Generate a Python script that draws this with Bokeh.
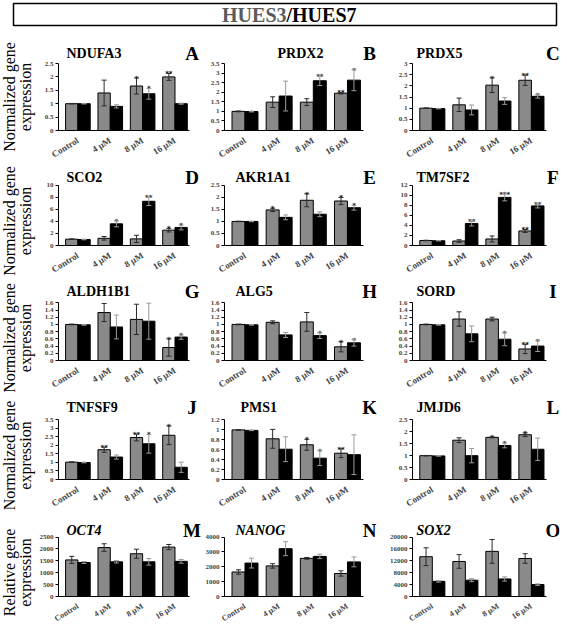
import math
from bokeh.plotting import figure
from bokeh.models import (ColumnDataSource, Range1d, FixedTicker,
                          CustomJSTickFormatter, Whisker, TeeHead)
from bokeh.layouts import gridplot, column, row
from bokeh.embed import file_html
from bokeh.resources import INLINE
from bokeh.core.properties import value

CATEGORIES = ["Control", "4 µM", "8 µM", "16 µM"]

NDUFA3_H3 = [1.00, 1.40, 1.66, 2.00]
NDUFA3_H3_ERR = [0.01, 0.48, 0.30, 0.13]
NDUFA3_H3_SIG = ["", "", "*", "**"]
NDUFA3_H7 = [1.00, 0.90, 1.37, 1.00]
NDUFA3_H7_ERR = [0.01, 0.06, 0.20, 0.02]
NDUFA3_H7_SIG = ["", "", "*", ""]
NDUFA3_TICKS = [0, 0.5, 1, 1.5, 2, 2.5]

PRDX2_H3 = [1.00, 1.48, 1.48, 1.95]
PRDX2_H3_ERR = [0.02, 0.28, 0.18, 0.04]
PRDX2_H3_SIG = ["", "", "", "**"]
PRDX2_H7 = [0.99, 1.80, 2.60, 2.63]
PRDX2_H7_ERR = [0.02, 0.78, 0.25, 0.55]
PRDX2_H7_SIG = ["", "", "**", "*"]
PRDX2_TICKS = [0, 0.5, 1, 1.5, 2, 2.5, 3, 3.5]

PRDX5_H3 = [1.00, 1.15, 2.03, 2.25]
PRDX5_H3_ERR = [0.01, 0.30, 0.33, 0.23]
PRDX5_H3_SIG = ["", "", "*", "**"]
PRDX5_H7 = [0.98, 0.92, 1.32, 1.53]
PRDX5_H7_ERR = [0.01, 0.22, 0.15, 0.08]
PRDX5_H7_SIG = ["", "", "", "*"]
PRDX5_TICKS = [0, 0.5, 1, 1.5, 2, 2.5, 3]

SCO2_H3 = [1.05, 1.20, 1.10, 2.55]
SCO2_H3_ERR = [0.05, 0.30, 0.60, 0.30]
SCO2_H3_SIG = ["", "", "", "*"]
SCO2_H7 = [1.00, 3.60, 7.35, 3.00]
SCO2_H7_ERR = [0.05, 0.50, 0.70, 0.40]
SCO2_H7_SIG = ["", "*", "**", "*"]
SCO2_TICKS = [0, 2, 4, 6, 8, 10]

AKR1A1_H3 = [1.00, 1.48, 1.88, 1.85]
AKR1A1_H3_ERR = [0.01, 0.07, 0.27, 0.15]
AKR1A1_H3_SIG = ["", "*", "*", "*"]
AKR1A1_H7 = [1.00, 1.17, 1.30, 1.57]
AKR1A1_H7_ERR = [0.01, 0.10, 0.10, 0.10]
AKR1A1_H7_SIG = ["", "", "", "*"]
AKR1A1_TICKS = [0, 0.5, 1, 1.5, 2, 2.5]

TM7SF2_H3 = [1.00, 0.90, 1.30, 2.90]
TM7SF2_H3_ERR = [0.05, 0.25, 0.60, 0.30]
TM7SF2_H3_SIG = ["", "", "", "**"]
TM7SF2_H7 = [0.95, 4.40, 9.60, 7.90]
TM7SF2_H7_ERR = [0.03, 0.50, 0.70, 0.40]
TM7SF2_H7_SIG = ["", "**", "***", "**"]
TM7SF2_TICKS = [0, 2, 4, 6, 8, 10, 12]

ALDH1B1_H3 = [1.00, 1.33, 1.14, 0.36]
ALDH1B1_H3_ERR = [0.01, 0.25, 0.42, 0.24]
ALDH1B1_H3_SIG = ["", "", "", "*"]
ALDH1B1_H7 = [0.99, 0.93, 1.09, 0.65]
ALDH1B1_H7_ERR = [0.01, 0.33, 0.50, 0.06]
ALDH1B1_H7_SIG = ["", "", "", "*"]
ALDH1B1_TICKS = [0, 0.2, 0.4, 0.6, 0.8, 1, 1.2, 1.4, 1.6]

ALG5_H3 = [1.00, 1.06, 1.07, 0.38]
ALG5_H3_ERR = [0.01, 0.04, 0.26, 0.14]
ALG5_H3_SIG = ["", "", "", "*"]
ALG5_H7 = [0.99, 0.71, 0.69, 0.49]
ALG5_H7_ERR = [0.01, 0.07, 0.08, 0.09]
ALG5_H7_SIG = ["", "", "*", "*"]
ALG5_TICKS = [0, 0.2, 0.4, 0.6, 0.8, 1, 1.2, 1.4, 1.6]

SORD_H3 = [1.00, 1.15, 1.15, 0.32]
SORD_H3_ERR = [0.01, 0.20, 0.05, 0.13]
SORD_H3_SIG = ["", "", "", "**"]
SORD_H7 = [0.99, 0.74, 0.59, 0.40]
SORD_H7_ERR = [0.01, 0.22, 0.18, 0.15]
SORD_H7_SIG = ["", "", "*", "*"]
SORD_TICKS = [0, 0.2, 0.4, 0.6, 0.8, 1, 1.2, 1.4, 1.6]

TNFSF9_H3 = [1.02, 1.75, 2.47, 2.60]
TNFSF9_H3_ERR = [0.02, 0.15, 0.20, 0.55]
TNFSF9_H3_SIG = ["", "**", "**", "*"]
TNFSF9_H7 = [1.00, 1.32, 2.10, 0.72]
TNFSF9_H7_ERR = [0.02, 0.12, 0.55, 0.30]
TNFSF9_H7_SIG = ["", "", "*", ""]
TNFSF9_TICKS = [0, 0.5, 1, 1.5, 2, 2.5, 3, 3.5]

PMS1_H3 = [1.00, 0.82, 0.70, 0.53]
PMS1_H3_ERR = [0.005, 0.19, 0.11, 0.09]
PMS1_H3_SIG = ["", "", "*", "**"]
PMS1_H7 = [0.99, 0.61, 0.43, 0.50]
PMS1_H7_ERR = [0.005, 0.25, 0.15, 0.40]
PMS1_H7_SIG = ["", "", "*", ""]
PMS1_TICKS = [0, 0.2, 0.4, 0.6, 0.8, 1, 1.2]

JMJD6_H3 = [1.00, 1.65, 1.77, 1.88]
JMJD6_H3_ERR = [0.01, 0.10, 0.02, 0.08]
JMJD6_H3_SIG = ["", "", "*", "*"]
JMJD6_H7 = [0.99, 1.00, 1.43, 1.27]
JMJD6_H7_ERR = [0.01, 0.30, 0.10, 0.47]
JMJD6_H7_SIG = ["", "", "*", ""]
JMJD6_TICKS = [0, 0.5, 1, 1.5, 2, 2.5]

OCT4_H3 = [1540, 2060, 1800, 2080]
OCT4_H3_ERR = [150, 160, 190, 110]
OCT4_H3_SIG = ["", "", "", ""]
OCT4_H7 = [1430, 1460, 1460, 1480]
OCT4_H7_ERR = [40, 50, 140, 80]
OCT4_H7_SIG = ["", "", "", ""]
OCT4_TICKS = [0, 500, 1000, 1500, 2000, 2500]

NANOG_H3 = [1650, 2060, 2570, 1550]
NANOG_H3_ERR = [150, 150, 60, 180]
NANOG_H3_SIG = ["", "", "", ""]
NANOG_H7 = [2250, 3220, 2700, 2330]
NANOG_H7_ERR = [330, 470, 150, 330]
NANOG_H7_SIG = ["", "", "", ""]
NANOG_TICKS = [0, 1000, 2000, 3000, 4000]

SOX2_H3 = [13400, 11800, 15200, 12800]
SOX2_H3_ERR = [3000, 2300, 4000, 1600]
SOX2_H3_SIG = ["", "", "", ""]
SOX2_H7 = [5100, 5500, 5900, 4000]
SOX2_H7_ERR = [250, 500, 700, 250]
SOX2_H7_SIG = ["", "", "", ""]
SOX2_TICKS = [0, 4000, 8000, 12000, 16000, 20000]

ROW_LABELS = ["Normalized gene\nexpression"] * 4 + ["Relative gene\nexpression"]

GRAY = "#8a8a8a"
SERIF = "Liberation Serif"

# layout geometry (pixels)
HEAD_H = 28
LAB_W = 36
COL_W = [166, 184, 181]
COL_BL = [14, 20, 18]
COL_BR = [0, 10, 8]
COL_LDX = [-4, 0, 0]                # letter nudge per column
ROW_H = [138, 115, 115, 119, 115]
ROW_TOPX = [35, 21, 24, 26, 24]     # frame space above the top tick (titles live there)
ROW_FH = [67, 67, 65, 66, 66]       # data height of each frame
ROW_TDY = [10, 8, 11, 12, 7]        # title centre above top tick
COL_TDX = [8, 11, 4]
XR = (-0.6, 3.85)                   # x view
XB = (-0.6, 3.46)                   # x axis line extent
LETTER_X = 3.65
BAR_W = 0.38


def make_panel(gene, letter, h3, h3e, h3s, h7, h7e, h7s, ticks, r, c,
               italic=False, tdx=None, bl=None):
    ymax = ticks[-1]
    topx = ROW_TOPX[r]
    fh = ROW_FH[r]
    left = COL_BL[c] if bl is None else bl
    yend = ymax * (fh + topx) / fh
    p = figure(x_range=Range1d(*XR), y_range=Range1d(0, yend),
               width=COL_W[c], height=ROW_H[r], title=None,
               output_backend="svg", toolbar_location=None,
               min_border_left=left, min_border_right=COL_BR[c],
               min_border_top=0, min_border_bottom=ROW_H[r] - topx - fh)
    idx = list(range(len(CATEGORIES)))
    src = ColumnDataSource(dict(
        x3=[i - BAR_W / 2 for i in idx], x7=[i + BAR_W / 2 for i in idx],
        h3=h3, h3_lo=[m - e for m, e in zip(h3, h3e)], h3_hi=[m + e for m, e in zip(h3, h3e)], h3_s=h3s,
        h7=h7, h7_lo=[m - e for m, e in zip(h7, h7e)], h7_hi=[m + e for m, e in zip(h7, h7e)], h7_s=h7s,
    ))
    p.vbar(x="x3", top="h3", width=BAR_W, source=src, fill_color=GRAY,
           line_color="black", line_width=1)
    p.vbar(x="x7", top="h7", width=BAR_W, source=src, fill_color="black",
           line_color="black", line_width=1)
    for base, lo, hi, col in (("x3", "h3_lo", "h3_hi", "#2a2a2a"), ("x7", "h7_lo", "h7_hi", "#9a9a9a")):
        w = Whisker(base=base, upper=hi, lower=lo, source=src, level="annotation",
                    line_color=col, line_width=1,
                    upper_head=TeeHead(size=5, line_color=col, line_width=1),
                    lower_head=TeeHead(size=5, line_color=col, line_width=1))
        p.add_layout(w)
    for base, hi, s in (("x3", "h3_hi", "h3_s"), ("x7", "h7_hi", "h7_s")):
        p.text(x=base, y=hi, text=s, source=src, text_font=value("DejaVu Sans"),
               text_font_style="bold", text_font_size="7px", text_align="center",
               text_baseline="alphabetic", y_offset=1, text_color="#111111")

    p.xgrid.visible = False
    p.ygrid.visible = False
    p.outline_line_color = None

    p.yaxis.ticker = FixedTicker(ticks=ticks, minor_ticks=[])
    p.yaxis.bounds = (0, ymax)
    p.yaxis.formatter = CustomJSTickFormatter(code="return String(Math.round(tick*100)/100)")
    p.yaxis.major_label_text_font = SERIF
    p.yaxis.major_label_text_font_style = "bold"
    p.yaxis.major_label_text_font_size = "7px"
    p.yaxis.major_label_standoff = 2
    p.yaxis.major_tick_out = 3
    p.yaxis.major_tick_in = 0
    p.yaxis.axis_line_color = "black"

    p.xaxis.ticker = FixedTicker(ticks=idx, minor_ticks=[])
    p.xaxis.bounds = XB
    p.xaxis.formatter = CustomJSTickFormatter(args=dict(labels=CATEGORIES),
                                              code="return labels[Math.round(tick)] || ''")
    p.xaxis.major_label_orientation = 0.55
    p.xaxis.major_label_text_font = SERIF
    p.xaxis.major_label_text_font_style = "bold"
    p.xaxis.major_label_text_font_size = "9px" if r < 4 else "8px"
    p.xaxis.major_label_standoff = 3
    p.xaxis.major_tick_line_color = None
    p.xaxis.axis_line_color = "black"

    dx = COL_TDX[c] if tdx is None else tdx
    p.text(x=[XR[0]], y=[ymax], text=[gene], x_offset=dx, y_offset=-ROW_TDY[r],
           text_font=value(SERIF), text_font_style="bold italic" if italic else "bold",
           text_font_size="14px", text_align="left", text_baseline="middle", text_color="black")
    p.text(x=[LETTER_X], y=[ymax], text=[letter], x_offset=COL_LDX[c], y_offset=-ROW_TDY[r],
           text_font=value(SERIF), text_font_style="bold",
           text_font_size="19px", text_align="center", text_baseline="middle", text_color="black")
    return p


A = make_panel("NDUFA3", "A", NDUFA3_H3, NDUFA3_H3_ERR, NDUFA3_H3_SIG, NDUFA3_H7, NDUFA3_H7_ERR, NDUFA3_H7_SIG, NDUFA3_TICKS, 0, 0)
B = make_panel("PRDX2", "B", PRDX2_H3, PRDX2_H3_ERR, PRDX2_H3_SIG, PRDX2_H7, PRDX2_H7_ERR, PRDX2_H7_SIG, PRDX2_TICKS, 0, 1, tdx=53)
C = make_panel("PRDX5", "C", PRDX5_H3, PRDX5_H3_ERR, PRDX5_H3_SIG, PRDX5_H7, PRDX5_H7_ERR, PRDX5_H7_SIG, PRDX5_TICKS, 0, 2)
D = make_panel("SCO2", "D", SCO2_H3, SCO2_H3_ERR, SCO2_H3_SIG, SCO2_H7, SCO2_H7_ERR, SCO2_H7_SIG, SCO2_TICKS, 1, 0)
E = make_panel("AKR1A1", "E", AKR1A1_H3, AKR1A1_H3_ERR, AKR1A1_H3_SIG, AKR1A1_H7, AKR1A1_H7_ERR, AKR1A1_H7_SIG, AKR1A1_TICKS, 1, 1)
F = make_panel("TM7SF2", "F", TM7SF2_H3, TM7SF2_H3_ERR, TM7SF2_H3_SIG, TM7SF2_H7, TM7SF2_H7_ERR, TM7SF2_H7_SIG, TM7SF2_TICKS, 1, 2)
G = make_panel("ALDH1B1", "G", ALDH1B1_H3, ALDH1B1_H3_ERR, ALDH1B1_H3_SIG, ALDH1B1_H7, ALDH1B1_H7_ERR, ALDH1B1_H7_SIG, ALDH1B1_TICKS, 2, 0)
H = make_panel("ALG5", "H", ALG5_H3, ALG5_H3_ERR, ALG5_H3_SIG, ALG5_H7, ALG5_H7_ERR, ALG5_H7_SIG, ALG5_TICKS, 2, 1)
I = make_panel("SORD", "I", SORD_H3, SORD_H3_ERR, SORD_H3_SIG, SORD_H7, SORD_H7_ERR, SORD_H7_SIG, SORD_TICKS, 2, 2)
J = make_panel("TNFSF9", "J", TNFSF9_H3, TNFSF9_H3_ERR, TNFSF9_H3_SIG, TNFSF9_H7, TNFSF9_H7_ERR, TNFSF9_H7_SIG, TNFSF9_TICKS, 3, 0)
K = make_panel("PMS1", "K", PMS1_H3, PMS1_H3_ERR, PMS1_H3_SIG, PMS1_H7, PMS1_H7_ERR, PMS1_H7_SIG, PMS1_TICKS, 3, 1, tdx=16)
L = make_panel("JMJD6", "L", JMJD6_H3, JMJD6_H3_ERR, JMJD6_H3_SIG, JMJD6_H7, JMJD6_H7_ERR, JMJD6_H7_SIG, JMJD6_TICKS, 3, 2)
M = make_panel("OCT4", "M", OCT4_H3, OCT4_H3_ERR, OCT4_H3_SIG, OCT4_H7, OCT4_H7_ERR, OCT4_H7_SIG, OCT4_TICKS, 4, 0, italic=True, bl=18)
N = make_panel("NANOG", "N", NANOG_H3, NANOG_H3_ERR, NANOG_H3_SIG, NANOG_H7, NANOG_H7_ERR, NANOG_H7_SIG, NANOG_TICKS, 4, 1, italic=True)
O = make_panel("SOX2", "O", SOX2_H3, SOX2_H3_ERR, SOX2_H3_SIG, SOX2_H7, SOX2_H7_ERR, SOX2_H7_SIG, SOX2_TICKS, 4, 2, italic=True, bl=24)

grid = gridplot([[A, B, C], [D, E, F], [G, H, I], [J, K, L], [M, N, O]], toolbar_location=None)

# row labels on the far left
total_h = sum(ROW_H)
lab = figure(width=LAB_W, height=total_h, x_range=Range1d(0, LAB_W), y_range=Range1d(total_h, 0),
             min_border_left=0, min_border_right=0, min_border_top=0, min_border_bottom=0,
             x_axis_type=None, y_axis_type=None, output_backend="svg", toolbar_location=None,
             title=None)
lab.outline_line_color = None
centers = []
top = 0
for r in range(5):
    centers.append(top + ROW_TOPX[r] + ROW_FH[r] / 2)
    top += ROW_H[r]
lab.text(x=[17] * 5, y=centers, text=ROW_LABELS, angle=math.pi / 2,
         text_font=value(SERIF), text_font_size="16px", text_align="center",
         text_baseline="middle", text_line_height=0.95, text_color="black")

# header box
head = figure(width=sum(COL_W) + LAB_W, height=HEAD_H, x_range=Range1d(13, 556), y_range=Range1d(0, 1),
              min_border_left=13, min_border_right=11, min_border_top=3, min_border_bottom=3,
              x_axis_type=None, y_axis_type=None, output_backend="svg", toolbar_location=None,
              title=None)
head.outline_line_color = "black"
head.outline_line_width = 1.5
head.text(x=[286], y=[0.5], text=["HUES3"], text_align="right", text_baseline="middle",
          text_font=value(SERIF), text_font_style="bold", text_font_size="20px", text_color="#5a5a5a")
head.text(x=[286], y=[0.5], text=["/HUES7"], text_align="left", text_baseline="middle",
          text_font=value(SERIF), text_font_style="bold", text_font_size="20px", text_color="black")

layout = column(head, row(lab, grid))

open("out.html", "w").write(file_html(layout, INLINE))
